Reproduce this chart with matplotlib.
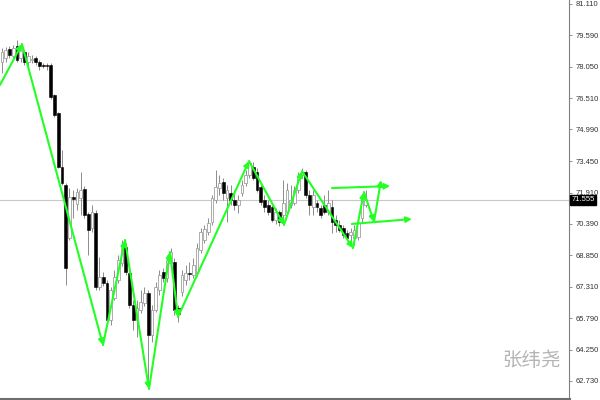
import numpy as np
import matplotlib.pyplot as plt
from matplotlib import transforms

# candle data (bar index = position in the lists)
opens = [78.28, 78.48, 78.91, 78.57, 79.06, 78.48, 78.77, 78.28, 78.38, 78.48,
         78.28, 78.09, 78.13, 78.13, 76.67, 75.79, 73.16, 72.28, 69.70, 71.70,
         71.35, 71.65, 72.09, 70.87, 70.18, 70.91, 67.30, 67.79, 67.50, 65.70,
         66.77, 67.65, 68.48, 69.26, 67.99, 66.43, 65.70, 66.18, 66.52, 67.01,
         64.96, 66.18, 67.16, 68.04, 67.74, 68.48, 68.52, 66.28, 67.06, 67.65,
         67.99, 67.89, 67.99, 69.11, 69.60, 69.99, 70.48, 71.55, 72.13, 72.43,
         71.65, 71.89, 71.55, 71.31, 71.89, 72.38, 72.77, 73.16, 72.91, 72.18,
         71.55, 71.31, 71.21, 70.57, 70.96, 70.82, 70.96, 71.31, 71.40, 72.04,
         72.77, 72.91, 71.79, 71.21, 71.40, 71.16, 71.31, 70.96, 71.21, 70.57,
         70.33, 70.18, 69.94, 69.84, 69.70, 69.75, 70.67, 71.31]
closes = [78.77, 78.87, 78.62, 78.96, 78.38, 78.96, 78.28, 78.57, 78.43, 78.28,
          78.09, 78.08, 78.09, 76.57, 75.70, 73.16, 72.38, 68.23, 71.70, 71.60,
          71.94, 72.04, 70.82, 70.08, 70.96, 67.30, 67.79, 67.50, 65.70, 67.16,
          67.79, 68.62, 69.35, 68.04, 66.43, 65.70, 66.28, 66.57, 67.01, 64.96,
          66.18, 67.30, 67.89, 67.74, 68.62, 69.01, 66.18, 65.99, 67.89, 67.99,
          67.94, 68.38, 69.21, 69.99, 70.13, 70.43, 71.65, 72.18, 72.38, 71.89,
          72.04, 71.55, 71.31, 71.55, 72.28, 72.77, 73.35, 72.62, 72.04, 71.45,
          71.21, 70.96, 70.57, 70.96, 70.48, 71.40, 72.04, 71.55, 72.04, 72.67,
          72.91, 71.79, 71.31, 71.79, 71.21, 70.82, 70.96, 71.40, 70.48, 70.33,
          70.08, 69.84, 69.70, 69.99, 70.08, 70.43, 71.65, 71.555]
highs = [78.96, 79.01, 79.06, 79.11, 79.35, 79.16, 78.87, 78.77, 78.62, 78.57,
         78.38, 78.23, 78.23, 78.23, 76.72, 75.84, 73.99, 72.38, 72.13, 72.04,
         72.13, 72.91, 72.23, 70.96, 71.31, 71.06, 68.77, 68.04, 67.65, 67.30,
         68.13, 68.87, 69.60, 69.45, 68.13, 66.67, 66.67, 67.16, 67.30, 67.16,
         66.43, 67.55, 68.13, 68.23, 68.87, 69.21, 68.72, 66.43, 68.13, 68.38,
         68.52, 68.72, 69.45, 70.18, 70.33, 70.67, 71.79, 73.01, 72.77, 72.62,
         72.28, 72.28, 72.04, 71.79, 72.52, 73.01, 73.50, 73.40, 73.11, 72.28,
         71.79, 71.55, 71.31, 71.16, 71.06, 72.52, 72.38, 72.28, 72.23, 72.91,
         73.11, 73.01, 72.04, 72.04, 71.55, 71.31, 71.79, 72.04, 71.55, 70.82,
         70.57, 70.33, 70.08, 70.18, 70.33, 70.67, 71.79, 72.04]
lows = [77.74, 78.28, 78.48, 78.48, 78.28, 78.28, 78.13, 78.04, 78.23, 78.13,
        77.89, 77.99, 77.89, 76.48, 75.60, 73.11, 72.28, 67.40, 69.60, 70.67,
        71.06, 70.82, 70.67, 68.87, 69.99, 67.16, 67.16, 67.35, 65.60, 65.45,
        66.67, 67.50, 68.33, 67.89, 66.28, 65.21, 64.87, 66.04, 66.38, 62.52,
        64.62, 66.08, 66.91, 67.55, 67.55, 68.23, 65.94, 65.60, 66.87, 67.40,
        67.65, 67.74, 67.84, 68.96, 69.45, 69.84, 70.33, 71.40, 71.79, 71.55,
        70.48, 71.31, 71.06, 70.91, 71.74, 72.23, 72.62, 72.52, 71.94, 71.31,
        70.96, 70.82, 70.48, 70.38, 70.28, 70.33, 70.82, 71.16, 71.31, 71.89,
        72.62, 71.65, 70.82, 70.82, 70.96, 70.67, 70.87, 70.82, 69.94, 69.99,
        69.99, 69.70, 69.60, 69.35, 69.35, 69.60, 70.48, 71.21]

# green zigzag (bar index, price)
wave_x = [-0.53, 5.33, 26.93, 32.8, 39.2, 44.8, 46.93, 65.87, 75.2, 80.0, 93.6, 96.53, 99.2, 101.07]
wave_y = [77.16, 79.16, 64.47, 69.60, 62.33, 69.01, 65.84, 73.45, 70.33, 72.96, 69.20, 71.94, 70.48, 72.52]

# two horizontal-ish projection arrows
proj_x = [(88.0, 103.5), (93.3, 109.3)]
proj_y = [(72.13, 72.23), (70.38, 70.62)]

yticks = [81.110, 79.590, 78.050, 76.510, 74.990, 73.450, 71.910, 70.390,
          68.850, 67.310, 65.790, 64.250, 62.730]
last_price = 71.555

fig = plt.figure(figsize=(6, 4), dpi=100)
ax = fig.add_axes([0, 1.5 / 400, 569 / 600, 398.5 / 400])

ax.axhline(last_price, color='#c8c8c8', lw=0.8, zorder=0)

o = np.array(opens)
c = np.array(closes)
idx = np.arange(len(o))
up = c >= o

ax.vlines(idx, lows, highs, color='#8c8c8c', lw=0.7, zorder=1)
body = np.maximum(np.abs(c - o), 0.03)
ax.bar(idx[up], body[up], bottom=np.minimum(o, c)[up], width=0.72,
       facecolor='white', edgecolor='#a0a0a0', lw=0.6, zorder=2)
ax.bar(idx[~up], body[~up], bottom=np.minimum(o, c)[~up], width=0.72,
       facecolor='black', edgecolor='black', lw=0.4, zorder=2)

green = '#22ff22'
for k in range(1, len(wave_x)):
    ax.annotate('', xy=(wave_x[k], wave_y[k]), xytext=(wave_x[k - 1], wave_y[k - 1]),
                arrowprops=dict(arrowstyle='-|>', color=green, lw=1.5,
                                mutation_scale=8, shrinkA=0, shrinkB=0),
                annotation_clip=False, zorder=3)
for px, py in zip(proj_x, proj_y):
    ax.annotate('', xy=(px[1], py[1]), xytext=(px[0], py[0]),
                arrowprops=dict(arrowstyle='-|>', color=green, lw=1.5,
                                mutation_scale=8, shrinkA=0, shrinkB=0),
                zorder=3)

ax.set_xlim(-0.53, 151.2)
ax.set_ylim(61.866, 81.305)

for s in ['top', 'left']:
    ax.spines[s].set_visible(False)
ax.spines['right'].set_color('#808080')
ax.spines['right'].set_linewidth(0.8)
ax.spines['bottom'].set_color('#6e6e6e')
ax.spines['bottom'].set_linewidth(2.2)

ax.set_xticks([])
ax.yaxis.tick_right()
ax.set_yticks(yticks)
ax.set_yticklabels(['%.3f' % v for v in yticks], fontsize=5.5,
                   family='Liberation Sans', color='#333333')
ax.tick_params(axis='y', length=2.5, width=0.6, color='#808080', pad=2)

tr = transforms.blended_transform_factory(ax.transAxes, ax.transData)
ax.text(1.004, last_price, '%.3f' % last_price, transform=tr, fontsize=5.5,
        family='Liberation Sans', color='white', ha='left', va='center',
        bbox=dict(facecolor='black', edgecolor='black', pad=1.2), zorder=5)

fig.text(532 / 600, 1 - 360 / 400, '张纬尧', fontsize=14, color='#b4b4b4',
         family=['Noto Sans CJK SC', 'DejaVu Sans'], ha='center', va='center')

fig.savefig('out.png', dpi=100)
